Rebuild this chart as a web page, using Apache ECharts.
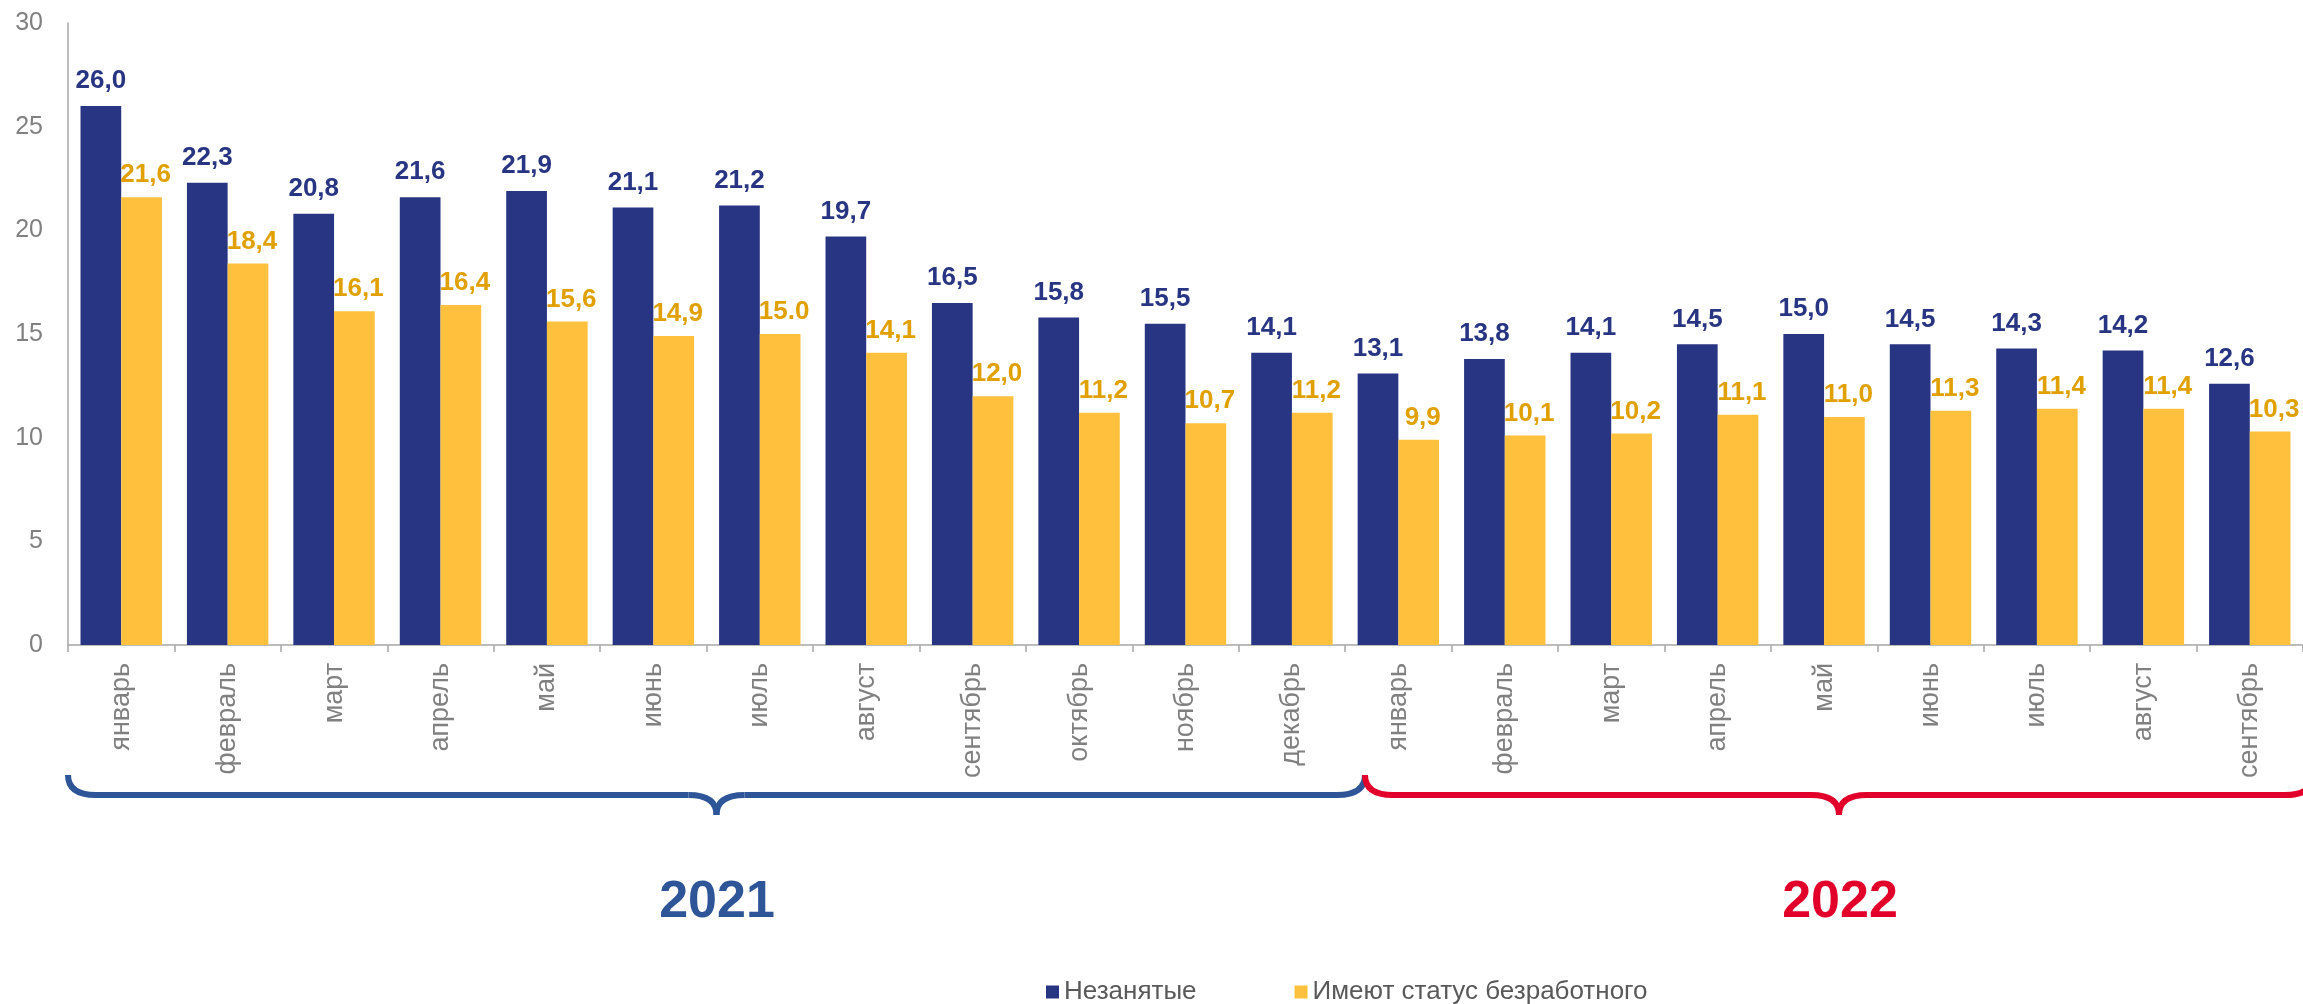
<!DOCTYPE html>
<html>
<head>
<meta charset="utf-8">
<script src="https://cdn.jsdelivr.net/npm/echarts@6/dist/echarts.min.js"></script>
<style>
  html, body { margin: 0; padding: 0; background: #fff; }
  #chart { width: 2303px; height: 1004px; }
</style>
</head>
<body>
<div id="chart"></div>
<script>
const months = ['январь', 'февраль', 'март', 'апрель', 'май', 'июнь', 'июль', 'август', 'сентябрь', 'октябрь', 'ноябрь', 'декабрь',
  'январь', 'февраль', 'март', 'апрель', 'май', 'июнь', 'июль', 'август', 'сентябрь'];
const unemployed = [26.0, 22.3, 20.8, 21.6, 21.9, 21.1, 21.2, 19.7, 16.5, 15.8, 15.5, 14.1,
  13.1, 13.8, 14.1, 14.5, 15.0, 14.5, 14.3, 14.2, 12.6];
const jobless = [21.6, 18.4, 16.1, 16.4, 15.6, 14.9, 15.0, 14.1, 12.0, 11.2, 10.7, 11.2,
  9.9, 10.1, 10.2, 11.1, 11.0, 11.3, 11.4, 11.4, 10.3];
const seriesNames = ['Незанятые', 'Имеют статус безработного'];
const years = ['2021', '2022'];
// в оригинале у июля 2021 подпись "15.0" с точкой
const dotLabelIdx = [6];

const FONT = '"Liberation Sans", Arial, sans-serif';
const BLUE = '#283583';
const YELLOW = '#FFC13D';

const fmt = (p) => {
  const s = p.value.toFixed(1);
  return (p.seriesIndex === 1 && dotLabelIdx.includes(p.dataIndex)) ? s : s.replace('.', ',');
};

// фигурная скобка под осью: кривые + прямые
const brace = (x1, x2, color) => {
  const m = (x1 + x2) / 2, y = 795, r = 28, top = 775, tip = 815;
  const st = { stroke: color, lineWidth: 6, fill: null };
  const curve = (ax, ay, bx, by, cx, cy) => ({
    type: 'bezierCurve', silent: true,
    shape: { x1: ax, y1: ay, x2: bx, y2: by, cpx1: cx, cpy1: cy },
    style: st
  });
  const line = (ax, bx) => ({
    type: 'line', silent: true,
    shape: { x1: ax, y1: y, x2: bx, y2: y },
    style: st
  });
  return {
    type: 'group',
    children: [
      curve(x1, top, x1 + r, y, x1, y),
      line(x1 + r, m - r),
      curve(m - r, y, m, tip, m, y),
      curve(m, tip, m + r, y, m, y),
      line(m + r, x2 - r),
      curve(x2 - r, y, x2, top, x2, y)
    ]
  };
};

const yearText = (x, text, color) => ({
  type: 'text',
  x: x, y: 903,
  style: {
    text: text,
    fill: color,
    font: 'bold 52px ' + FONT,
    textAlign: 'center',
    textVerticalAlign: 'middle'
  }
});

const chart = echarts.init(document.getElementById('chart'));
chart.setOption({
  animation: false,
  textStyle: { fontFamily: FONT },
  grid: { left: 68, top: 23, width: 2240, height: 622 },
  legend: {
    data: seriesNames,
    left: 1041,
    top: 974,
    itemWidth: 13,
    itemHeight: 13,
    itemGap: 98,
    icon: 'rect',
    textStyle: { fontSize: 26, color: '#595959', fontFamily: FONT }
  },
  xAxis: {
    type: 'category',
    data: months,
    axisLine: { lineStyle: { color: '#A6A6A6', width: 1.5 } },
    axisTick: { show: true, length: 7, lineStyle: { color: '#A6A6A6', width: 1.5 } },
    axisLabel: { interval: 0, rotate: 90, margin: 18, fontSize: 27, color: '#808080' }
  },
  yAxis: {
    type: 'value',
    min: 0,
    max: 30,
    interval: 5,
    axisLine: { show: true, lineStyle: { color: '#A6A6A6', width: 1.5 } },
    axisTick: { show: false },
    splitLine: { show: false },
    axisLabel: { fontSize: 25, color: '#808080', margin: 25 }
  },
  series: [
    {
      name: seriesNames[0],
      type: 'bar',
      data: unemployed,
      barGap: 0,
      barCategoryGap: '23.5%',
      itemStyle: { color: BLUE },
      label: {
        show: true, position: 'top', distance: 12, formatter: fmt,
        fontSize: 26, fontWeight: 'bold', color: BLUE
      }
    },
    {
      name: seriesNames[1],
      type: 'bar',
      data: jobless,
      itemStyle: { color: YELLOW },
      label: {
        show: true, position: 'top', distance: 9, offset: [4, 0], formatter: fmt,
        fontSize: 26, fontWeight: 'bold', color: '#E0A000'
      }
    }
  ],
  graphic: [
    brace(68, 1365, '#2E5597'),
    brace(1365, 2313, '#E2002B'),
    yearText(717, years[0], '#2E5597'),
    yearText(1840, years[1], '#E2002B')
  ]
});
</script>
</body>
</html>
